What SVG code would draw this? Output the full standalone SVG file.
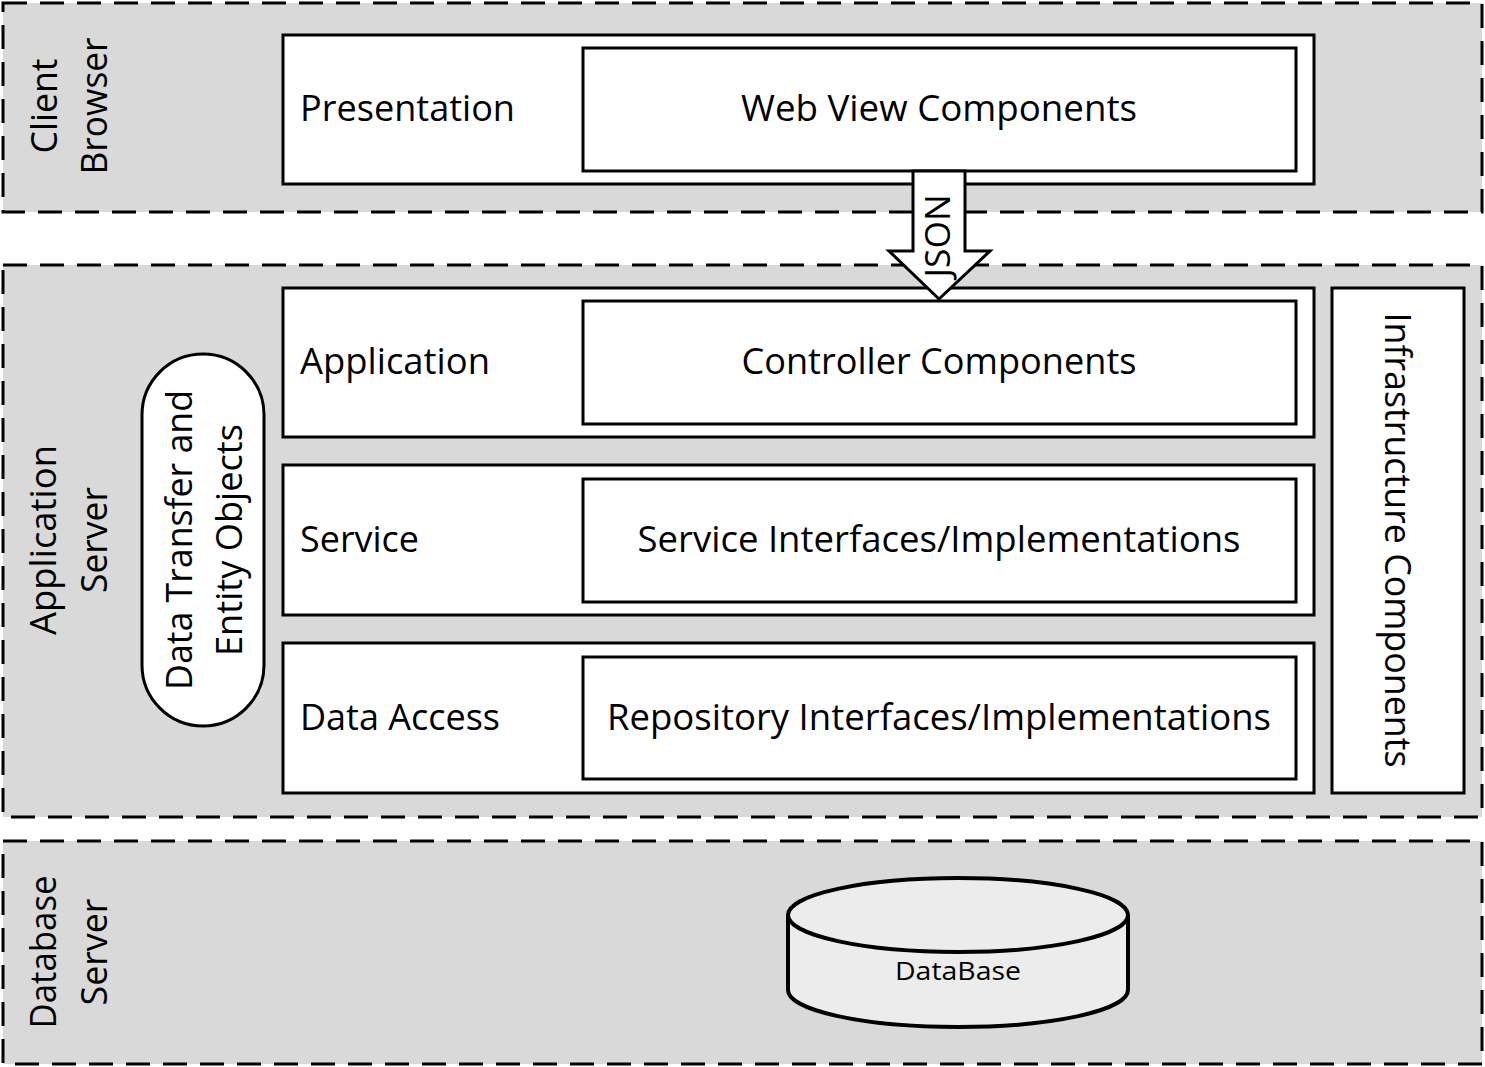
<svg xmlns="http://www.w3.org/2000/svg" width="1485" height="1067" viewBox="0 0 1485 1067">
<style>
.zone{fill:#d9d9d9;stroke:#000;stroke-width:3;stroke-dasharray:24 13}
.box{fill:#fff;stroke:#000;stroke-width:3}
.t{font-family:"Open Sans","Noto Sans",sans-serif;font-size:36px;fill:#000}
.c{text-anchor:middle}
</style>
<rect width="1485" height="1067" fill="#fff"/>
<g id="zone-client">
<rect class="zone" x="3" y="3" width="1479" height="209"/>
<text class="t c" transform="translate(57,106) rotate(-90)" textLength="95" lengthAdjust="spacingAndGlyphs">Client</text>
<text class="t c" transform="translate(107,106) rotate(-90)" textLength="137" lengthAdjust="spacingAndGlyphs">Browser</text>
</g>
<g id="zone-app">
<rect class="zone" x="3" y="265" width="1479" height="552"/>
<text class="t c" transform="translate(56,540) rotate(-90)" textLength="190" lengthAdjust="spacingAndGlyphs">Application</text>
<text class="t c" transform="translate(107,540) rotate(-90)" textLength="106" lengthAdjust="spacingAndGlyphs">Server</text>
</g>
<g id="zone-db">
<rect class="zone" x="3" y="841" width="1479" height="223"/>
<text class="t c" transform="translate(56,952) rotate(-90)" textLength="153" lengthAdjust="spacingAndGlyphs">Database</text>
<text class="t c" transform="translate(107,952) rotate(-90)" textLength="107" lengthAdjust="spacingAndGlyphs">Server</text>
</g>
<g id="presentation">
<rect class="box" x="283" y="35" width="1031" height="149"/>
<text class="t" x="300" y="121" textLength="215" lengthAdjust="spacingAndGlyphs">Presentation</text>
</g>
<g id="web-view">
<rect class="box" x="583" y="48" width="713" height="123"/>
<text class="t c" x="939" y="121" textLength="396" lengthAdjust="spacingAndGlyphs">Web View Components</text>
</g>
<g id="application">
<rect class="box" x="283" y="288" width="1031" height="149"/>
<text class="t" x="300" y="374" textLength="190" lengthAdjust="spacingAndGlyphs">Application</text>
</g>
<g id="controller">
<rect class="box" x="583" y="301" width="713" height="123"/>
<text class="t c" x="939" y="374" textLength="395" lengthAdjust="spacingAndGlyphs">Controller Components</text>
</g>
<g id="service">
<rect class="box" x="283" y="465" width="1031" height="150"/>
<text class="t" x="300" y="552" textLength="119" lengthAdjust="spacingAndGlyphs">Service</text>
</g>
<g id="service-impl">
<rect class="box" x="583" y="479" width="713" height="123"/>
<text class="t c" x="939" y="552" textLength="603" lengthAdjust="spacingAndGlyphs">Service Interfaces/Implementations</text>
</g>
<g id="data-access">
<rect class="box" x="283" y="643" width="1031" height="150"/>
<text class="t" x="300" y="730" textLength="200" lengthAdjust="spacingAndGlyphs">Data Access</text>
</g>
<g id="repository">
<rect class="box" x="583" y="657" width="713" height="122"/>
<text class="t c" x="939" y="730" textLength="664" lengthAdjust="spacingAndGlyphs">Repository Interfaces/Implementations</text>
</g>
<g id="infrastructure">
<rect class="box" x="1332" y="288" width="132" height="505"/>
<text class="t c" transform="translate(1385,540) rotate(90)" textLength="455" lengthAdjust="spacingAndGlyphs">Infrastructure Components</text>
</g>
<g id="dto">
<rect class="box" x="142" y="354" width="122" height="372" rx="61" ry="61"/>
<text class="t c" transform="translate(192,540) rotate(-90)" textLength="300" lengthAdjust="spacingAndGlyphs">Data Transfer and</text>
<text class="t c" transform="translate(242,540) rotate(-90)" textLength="232" lengthAdjust="spacingAndGlyphs">Entity Objects</text>
</g>
<g id="database">
<path d="M788,915 L788,990 A170,37 0 0 0 1128,990 L1128,915" fill="#ececec" stroke="#000" stroke-width="4"/>
<ellipse cx="958" cy="915" rx="170" ry="37" fill="#ececec" stroke="#000" stroke-width="4"/>
<text class="t c" x="958" y="980" style="font-size:25px" textLength="126" lengthAdjust="spacingAndGlyphs">DataBase</text>
</g>
<g id="connectors">
<path d="M913,171 L965,171 L965,251 L990,251 L939,299 L889,251 L913,251 Z" fill="#fff" stroke="#000" stroke-width="3" stroke-linejoin="miter"/>
<text class="t c" transform="translate(950,236) rotate(-90)" style="font-size:34px" textLength="83" lengthAdjust="spacingAndGlyphs">JSON</text>
</g>
</svg>
